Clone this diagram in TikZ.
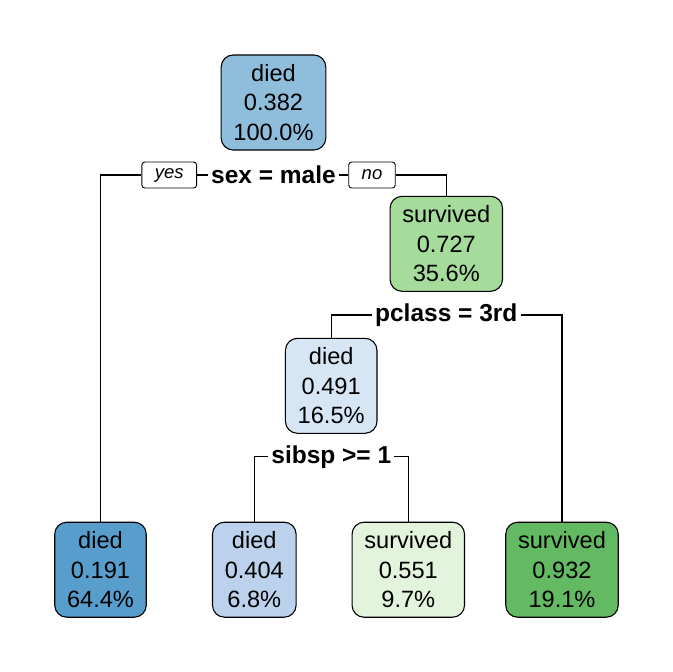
\documentclass[tikz,border=0pt]{standalone}
\usepackage{fontspec}
\setmainfont{Liberation Sans}
\usetikzlibrary{positioning}
\definecolor{blueroot}{RGB}{143,190,220}
\definecolor{bluedark}{RGB}{88,158,204}
\definecolor{bluepale}{RGB}{214,230,245}
\definecolor{bluelight}{RGB}{188,210,236}
\definecolor{greenmid}{RGB}{166,220,155}
\definecolor{greenpale}{RGB}{226,244,220}
\definecolor{greendark}{RGB}{100,186,98}
\tikzstyle{treenode} = [rectangle, draw, rounded corners=12pt, line width=1.1pt, align=center, inner xsep=12.3pt, minimum height=95pt, font=\fontsize{23.6}{29.6}\selectfont]
\tikzstyle{splitlabel} = [fill=white, inner xsep=3pt, inner ysep=2pt, font=\fontsize{24.5}{29}\selectfont\bfseries]
\tikzstyle{yesno} = [rectangle, draw, fill=white, rounded corners=3pt, line width=0.9pt, inner xsep=13pt, minimum height=26pt, font=\fontsize{18.5}{22}\selectfont\itshape]
\tikzstyle{branch} = [line width=1.1pt]

\begin{document}
\begin{tikzpicture}[x=1pt, y=-1pt]
  \useasboundingbox (0,0) rectangle (672,672);

  % inner nodes
  \node[treenode, fill=blueroot] (root) at (273.5,102.5) {died\\0.382\\100.0\%};
  \node[treenode, fill=greenmid] (surv) at (446.3,243.8) {survived\\0.727\\35.6\%};
  \node[treenode, fill=bluepale] (pcl) at (331.2,385.8) {died\\0.491\\16.5\%};

  % leaves
  \node[treenode, fill=bluedark] (leafa) at (100.5,569.7) {died\\0.191\\64.4\%};
  \node[treenode, fill=bluelight] (leafb) at (254.3,569.7) {died\\0.404\\6.8\%};
  \node[treenode, fill=greenpale] (leafc) at (408.3,569.7) {survived\\0.551\\9.7\%};
  \node[treenode, fill=greendark] (leafd) at (562,569.7) {survived\\0.932\\19.1\%};

  % split labels
  \node[splitlabel] (sexsplit) at (273.5,175) {sex = male};
  \node[yesno] (yes) at (169.2,175) {yes};
  \node[yesno] (no) at (372,175) {no};
  \node[splitlabel] (pclsplit) at (446.3,315) {pclass = 3rd};
  \node[splitlabel] (sibsplit) at (331.3,456.7) {sibsp >= 1};

  % branches
  \draw[branch] (sexsplit.west) -- (yes.east);
  \draw[branch] (sexsplit.east) -- (no.west);
  \draw[branch] (yes.west) -| (leafa.north);
  \draw[branch] (no.east) -| (surv.north);
  \draw[branch] (pclsplit.west) -| (pcl.north);
  \draw[branch] (pclsplit.east) -| (leafd.north);
  \draw[branch] (sibsplit.west) -| (leafb.north);
  \draw[branch] (sibsplit.east) -| (leafc.north);
\end{tikzpicture}
\end{document}
